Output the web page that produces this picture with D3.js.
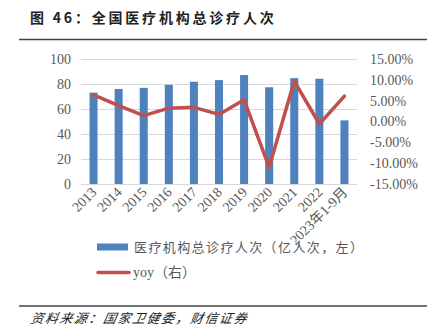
<!DOCTYPE html>
<html>
<head>
<meta charset="utf-8">
<script src="https://cdn.jsdelivr.net/npm/d3@7/dist/d3.min.js"></script>
<style>
  html, body { margin: 0; padding: 0; background: #fff; }
  svg { display: block; }
</style>
</head>
<body>
<svg id="chart" width="440" height="330"></svg>
<script>
// Total outpatient visits at medical institutions (100 million visits) and YoY growth
const categories = ["2013", "2014", "2015", "2016", "2017", "2018", "2019", "2020", "2021", "2022", "2023年1-9月"];
const visits = [73.1, 76.0, 76.9, 79.3, 81.8, 83.1, 87.2, 77.4, 84.7, 84.2, 50.9];
const yoy = [6.4, 3.8, 1.4, 3.2, 3.4, 1.7, 5.2, -11.0, 9.7, -0.6, 6.1];
const leftTicks = [0, 20, 40, 60, 80, 100];
const rightTicks = [-15, -10, -5, 0, 5, 10, 15];

const title = "图 46：全国医疗机构总诊疗人次";
const source = "资料来源：国家卫健委，财信证券";
const legendBar = "医疗机构总诊疗人次（亿人次，左）";
const legendLine = "yoy（右）";

const svg = d3.select("#chart");
const plot = { left: 81, right: 357, top: 59, bottom: 184 };
const textGray = "#595959";
const serif = "'Liberation Serif', 'Times New Roman', serif";
const cjk = "'Noto Sans CJK SC', sans-serif";

const x = d3.scaleBand().domain(categories).range([plot.left, plot.right]).paddingInner(0.68).paddingOuter(0.34);
const yL = d3.scaleLinear().domain([0, 100]).range([plot.bottom, plot.top]);
const yR = d3.scaleLinear().domain([-15, 15]).range([plot.bottom, plot.top]);

// Header and rules
svg.append("text").attr("x", 30).attr("y", 23)
  .attr("font-family", cjk).attr("font-weight", "bold").attr("font-size", 14)
  .attr("letter-spacing", 2.8).attr("fill", "#222").text(title);
svg.append("line").attr("x1", 19).attr("x2", 427).attr("y1", 39.5).attr("y2", 39.5)
  .attr("stroke", "#444").attr("stroke-width", 1.5);
svg.append("line").attr("x1", 19).attr("x2", 427).attr("y1", 306).attr("y2", 306)
  .attr("stroke", "#444").attr("stroke-width", 1.5);
svg.append("text").attr("x", 30).attr("y", 323)
  .attr("font-family", cjk).attr("font-style", "italic").attr("font-size", 13)
  .attr("letter-spacing", 1.5).attr("fill", "#222")
  .attr("transform", "skewX(-10) translate(57,0)").text(source);

// Gridlines
svg.append("g").selectAll("line").data(leftTicks).join("line")
  .attr("x1", plot.left).attr("x2", plot.right)
  .attr("y1", d => Math.round(yL(d)) + 0.5).attr("y2", d => Math.round(yL(d)) + 0.5)
  .attr("stroke", "#d9d9d9").attr("stroke-width", 1);

// Left axis
const axL = svg.append("g").attr("transform", `translate(${plot.left},0)`)
  .call(d3.axisLeft(yL).tickValues(leftTicks).tickSize(0).tickPadding(10));
axL.select(".domain").remove();
axL.selectAll("text").attr("font-family", serif).attr("font-size", 14).attr("fill", textGray);

// Right axis
const axR = svg.append("g").attr("transform", `translate(${plot.right},0)`)
  .call(d3.axisRight(yR).tickValues(rightTicks).tickSize(0).tickPadding(13)
    .tickFormat(d => (d / 100).toLocaleString("en-US", { style: "percent", minimumFractionDigits: 2 })));
axR.select(".domain").remove();
axR.selectAll("text").attr("font-family", serif).attr("font-size", 14).attr("fill", textGray);

// Bars
svg.append("g").selectAll("rect").data(visits).join("rect")
  .attr("x", (d, i) => x(categories[i]))
  .attr("width", x.bandwidth())
  .attr("y", d => yL(d))
  .attr("height", d => yL(0) - yL(d))
  .attr("fill", "#4F81BD");

// YoY line
const line = d3.line()
  .x((d, i) => x(categories[i]) + x.bandwidth() / 2)
  .y(d => yR(d));
svg.append("path").datum(yoy).attr("d", line)
  .attr("fill", "none").attr("stroke", "#C0504D").attr("stroke-width", 3.5)
  .attr("stroke-linejoin", "round").attr("stroke-linecap", "round");

// Category labels
const axX = svg.append("g").attr("transform", `translate(0,${plot.bottom})`)
  .call(d3.axisBottom(x).tickSize(0).tickPadding(0));
axX.select(".domain").remove();
axX.selectAll("text")
  .attr("font-family", d => /年/.test(d) ? `${serif}, ${cjk}` : serif)
  .attr("font-size", 14).attr("fill", textGray)
  .attr("text-anchor", "end")
  .attr("dy", 0)
  .attr("transform", "translate(4,9) rotate(-45)");

// Legend
const lg = svg.append("g");
lg.append("rect").attr("x", 97).attr("y", 243.5).attr("width", 31).attr("height", 7).attr("fill", "#4F81BD");
lg.append("text").attr("x", 134).attr("y", 252)
  .attr("font-family", cjk).attr("font-size", 13).attr("letter-spacing", 1.4)
  .attr("fill", textGray).text(legendBar);
lg.append("line").attr("x1", 98).attr("x2", 129).attr("y1", 272.5).attr("y2", 272.5)
  .attr("stroke", "#C0504D").attr("stroke-width", 3.5).attr("stroke-linecap", "round");
lg.append("text").attr("x", 133).attr("y", 277)
  .attr("font-family", `${serif}, ${cjk}`).attr("font-size", 14)
  .attr("fill", textGray).text(legendLine);
</script>
</body>
</html>
